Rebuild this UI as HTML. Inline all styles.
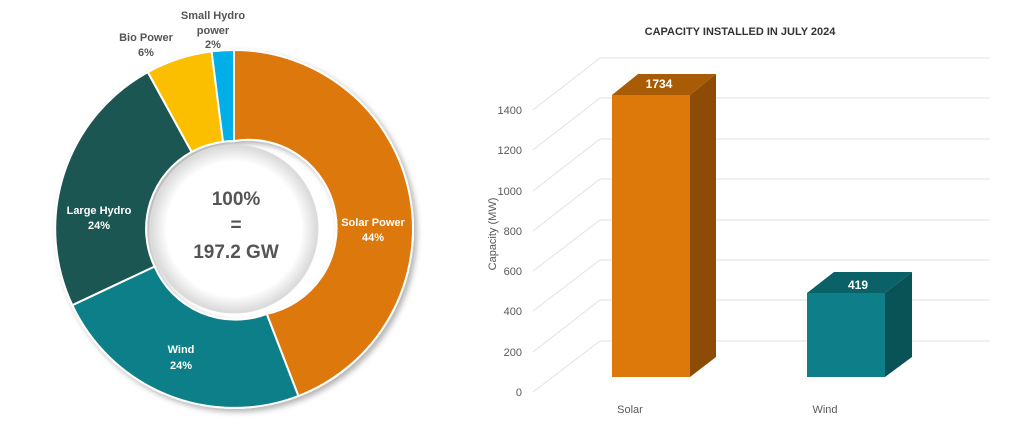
<!DOCTYPE html><html><head><style>body{margin:0;background:#fff}svg{display:block}text{font-family:"Liberation Sans",sans-serif}</style></head><body>
<svg width="1024" height="435" viewBox="0 0 1024 435">
<defs>
<radialGradient id="cg" cx="50%" cy="50%" r="50%"><stop offset="80%" stop-color="#fff"/><stop offset="100%" stop-color="#d8d8d8"/></radialGradient>
<filter id="sh" x="-20%" y="-20%" width="140%" height="140%"><feDropShadow dx="3" dy="3" stdDeviation="3" flood-color="#000" flood-opacity="0.3"/></filter>
</defs>
<g stroke="#fff" stroke-width="2" filter="url(#sh)">
<path d="M234,50 A179,179 0 0 1 298.4,396.0 L266.7,313.9 A88,88 0 0 0 234,141 Z" fill="#dd780b"/>
<path d="M298.4,396.0 A179,179 0 0 1 72.3,305.2 L154.5,266.5 A88,88 0 0 0 266.7,313.9 Z" fill="#0e7f88"/>
<path d="M72.3,305.2 A179,179 0 0 1 147.8,72.1 L191.6,151.9 A88,88 0 0 0 154.5,266.5 Z" fill="#1a5652"/>
<path d="M147.8,72.1 A179,179 0 0 1 211.6,51.4 L223.0,141.7 A88,88 0 0 0 191.6,151.9 Z" fill="#fcbf00"/>
<path d="M211.6,51.4 A179,179 0 0 1 234,50 L234,141 A88,88 0 0 0 223.0,141.7 Z" fill="#05aee8"/>
</g>
<circle cx="234" cy="229" r="84" fill="url(#cg)" stroke="#ddd" stroke-width="1"/>
<g text-anchor="middle" font-weight="bold" fill="#555">
<text x="236" y="205" font-size="19">100%</text>
<text x="236" y="231" font-size="19">=</text>
<text x="236" y="258" font-size="19">197.2 GW</text>
<g font-size="11"><text x="146" y="41">Bio Power</text><text x="146" y="56">6%</text>
<text x="213" y="19">Small Hydro</text><text x="213" y="34">power</text><text x="213" y="48">2%</text></g>
<g font-size="11" fill="#fff"><text x="373" y="226">Solar Power</text><text x="373" y="241">44%</text>
<text x="99" y="214">Large Hydro</text><text x="99" y="229">24%</text>
<text x="181" y="353">Wind</text><text x="181" y="369">24%</text></g>
</g>
<text x="740" y="35" text-anchor="middle" font-size="11" font-weight="bold" fill="#333">CAPACITY INSTALLED IN JULY 2024</text>
<g stroke="#e2e2e2" stroke-width="1" fill="none">
<path d="M600,58H990M600,98H990M600,139H990M600,179H990M600,220H990M600,260H990M600,300H990M600,341H990"/>
<path d="M533,392L600,341M533,352L600,300M533,311L600,260M533,271L600,220M533,231L600,179M533,191L600,139M533,150L600,98M533,110L600,58"/>
</g>
<g font-size="11" fill="#595959" text-anchor="end">
<text x="522" y="396">0</text><text x="522" y="356">200</text><text x="522" y="315">400</text><text x="522" y="275">600</text><text x="522" y="235">800</text><text x="522" y="195">1000</text><text x="522" y="154">1200</text><text x="522" y="114">1400</text>
</g>
<text transform="translate(496,234) rotate(-90)" text-anchor="middle" font-size="11" fill="#595959">Capacity (MW)</text>
<polygon points="612,95 690,95 716,74 638,74" fill="#a85c06"/>
<polygon points="690,95 716,74 716,357 690,377" fill="#8c4c05"/>
<rect x="612" y="95" width="78" height="282" fill="#dd780b"/>
<polygon points="807,293 885,293 912,272 834,272" fill="#0a6168"/>
<polygon points="885,293 912,272 912,357 885,377" fill="#095357"/>
<rect x="807" y="293" width="78" height="84" fill="#0e7f88"/>
<g font-size="12" font-weight="bold" fill="#fff" text-anchor="middle"><text x="659" y="88">1734</text><text x="858" y="289">419</text></g>
<g font-size="11" fill="#595959" text-anchor="middle"><text x="630" y="413">Solar</text><text x="825" y="413">Wind</text></g>
</svg></body></html>
